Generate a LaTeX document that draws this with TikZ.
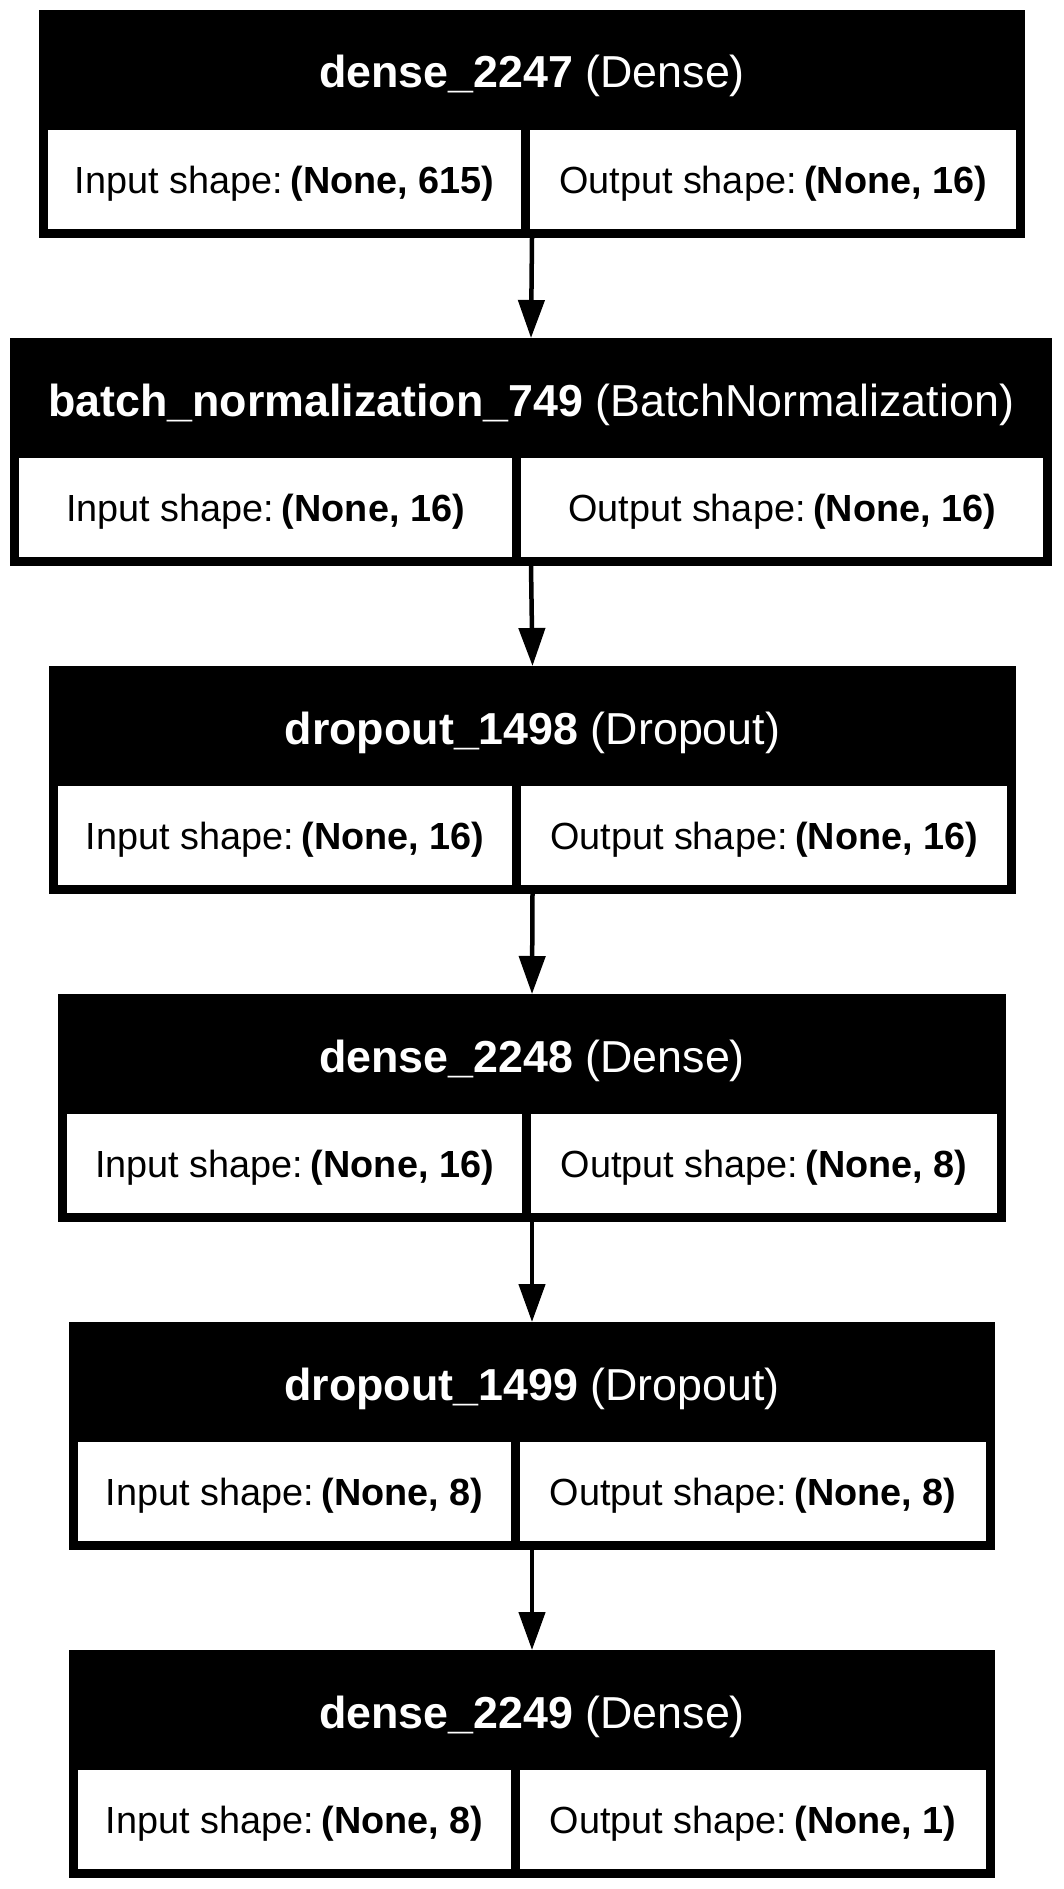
\documentclass[tikz,border=0pt]{standalone}
\usepackage{fontspec}
\setmainfont{Liberation Sans}
\usetikzlibrary{arrows.meta}
\newcommand\lyrTitleFont{\fontsize{22.4pt}{26pt}\selectfont}
\newcommand\lyrCellFont{\fontsize{18.9pt}{22pt}\selectfont}
\tikzset{
  boxouter/.style={fill=black, draw=none, inner sep=0pt, outer sep=0pt, minimum height=114pt},
  cellbox/.style={fill=white, draw=none, inner sep=0pt, outer sep=0pt, minimum height=49.5pt},
  titletext/.style={text=white, inner sep=0pt, anchor=base, font=\lyrTitleFont},
  celltext/.style={text=black, inner sep=0pt, anchor=base, font=\lyrCellFont},
  conn/.style={draw=black, line width=2.25pt, -{Triangle[length=19pt,width=13pt]}}
}
% #1 name, #2 top, #3 left, #4 divider x, #5 right, #6 bold title, #7 class, #8 in, #9 out
\newcommand\layerbox[9]{%
  \pgfmathsetmacro\lbW{(#5-#3)*0.5}%
  \pgfmathsetmacro\lbA{(#4-#3-9)*0.5}%
  \pgfmathsetmacro\lbB{(#5-#4-18)*0.5}%
  \pgfmathsetmacro\lbCx{(#3+#5)/2}%
  \pgfmathsetmacro\lbLx{(#3+9+#4)/2}%
  \pgfmathsetmacro\lbRx{(#4+9+#5-9)/2}%
  \node[boxouter, minimum width=\lbW pt, anchor=north west] (#1) at (#3,#2) {};
  \node[cellbox, minimum width=\lbA pt, anchor=north west] (#1-in) at ({#3+9},{#2+120}) {};
  \node[cellbox, minimum width=\lbB pt, anchor=north west] (#1-out) at ({#4+9},{#2+120}) {};
  \node[titletext] (#1-title) at (\lbCx,{#2+78}) {\textbf{#6} #7};
  \node[celltext] (#1-intext) at (\lbLx,{#2+183}) {Input shape:\hspace{0.2em}\textbf{#8}};
  \node[celltext] (#1-outtext) at (\lbRx,{#2+183}) {Output shape:\hspace{0.2em}\textbf{#9}};
}
\begin{document}
\begin{tikzpicture}[x=0.5pt,y=-0.5pt]
\useasboundingbox[fill=white] (0,0) rectangle (1064,1889);
\layerbox{b1}{10}{39}{521}{1025}{dense\_2247}{(Dense)}{(None, 615)}{(None, 16)}
\layerbox{b2}{338}{10}{512}{1052}{batch\_normalization\_749}{(BatchNormalization)}{(None, 16)}{(None, 16)}
\layerbox{b3}{666}{49}{512}{1016}{dropout\_1498}{(Dropout)}{(None, 16)}{(None, 16)}
\layerbox{b4}{994}{58}{522}{1006}{dense\_2248}{(Dense)}{(None, 16)}{(None, 8)}
\layerbox{b5}{1322}{69}{511}{995}{dropout\_1499}{(Dropout)}{(None, 8)}{(None, 8)}
\layerbox{b6}{1650}{69}{511}{995}{dense\_2249}{(Dense)}{(None, 8)}{(None, 1)}
\draw[conn] (b1.south) -- (b2.north);
\draw[conn] (b2.south) -- (b3.north);
\draw[conn] (b3.south) -- (b4.north);
\draw[conn] (b4.south) -- (b5.north);
\draw[conn] (b5.south) -- (b6.north);
\end{tikzpicture}
\end{document}
